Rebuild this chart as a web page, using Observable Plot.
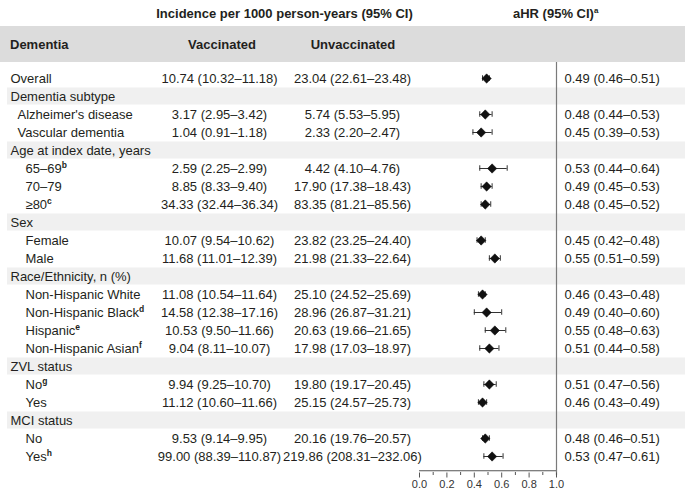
<!DOCTYPE html>
<html><head><meta charset="utf-8">
<script src="https://cdn.jsdelivr.net/npm/d3@7"></script>
<script src="https://cdn.jsdelivr.net/npm/@observablehq/plot@0.6"></script>
<style>
html,body{margin:0;padding:0;background:#fff;overflow:hidden;width:685px;height:491px;}
body{position:relative;font-family:"Liberation Sans",Arial,sans-serif;color:#231f20;}
#head{position:absolute;left:0;top:0;width:685px;height:62px;}
#head span{position:absolute;white-space:nowrap;font-weight:bold;font-size:13px;line-height:15px;}
#head .band{position:absolute;left:0;top:26px;width:685px;height:36px;background:#dcdcdc;}
#head sup{font-size:8px;line-height:0;vertical-align:5px;}
#chart{position:absolute;left:0;top:62px;width:685px;height:429px;}
#chart svg{display:block;max-width:none !important;width:685px;height:429px;}
</style></head><body>
<div id="head"></div>
<div id="chart"></div>
<script>
// ---- data ----
const titleIncidence = "Incidence per 1000 person-years (95% CI)";
const titleHR = "aHR (95% CI)^a";
const columnHeads = ["Dementia", "Vaccinated", "Unvaccinated"];

const labels = ["Overall","Dementia subtype","Alzheimer's disease","Vascular dementia","Age at index date, years","65–69^b","70–79","≥80^c","Sex","Female","Male","Race/Ethnicity, n (%)","Non-Hispanic White","Non-Hispanic Black^d","Hispanic^e","Non-Hispanic Asian^f","ZVL status","No^g","Yes","MCI status","No","Yes^h"];
const indentLevel = [0,0,1,1,0,2,2,2,0,2,2,0,2,2,2,2,0,2,2,0,2,2];
const isGroup = [false,true,false,false,true,false,false,false,true,false,false,true,false,false,false,false,true,false,false,true,false,false];

const vaccRate = [10.74,null,3.17,1.04,null,2.59,8.85,34.33,null,10.07,11.68,null,11.08,14.58,10.53,9.04,null,9.94,11.12,null,9.53,99.00];
const vaccLo   = [10.32,null,2.95,0.91,null,2.25,8.33,32.44,null,9.54,11.01,null,10.54,12.38,9.50,8.11,null,9.25,10.60,null,9.14,88.39];
const vaccHi   = [11.18,null,3.42,1.18,null,2.99,9.40,36.34,null,10.62,12.39,null,11.64,17.16,11.66,10.07,null,10.70,11.66,null,9.95,110.87];

const unvRate = [23.04,null,5.74,2.33,null,4.42,17.90,83.35,null,23.82,21.98,null,25.10,28.96,20.63,17.98,null,19.80,25.15,null,20.16,219.86];
const unvLo   = [22.61,null,5.53,2.20,null,4.10,17.38,81.21,null,23.25,21.33,null,24.52,26.87,19.66,17.03,null,19.17,24.57,null,19.76,208.31];
const unvHi   = [23.48,null,5.95,2.47,null,4.76,18.43,85.56,null,24.40,22.64,null,25.69,31.21,21.65,18.97,null,20.45,25.73,null,20.57,232.06];

const hr   = [0.49,null,0.48,0.45,null,0.53,0.49,0.48,null,0.45,0.55,null,0.46,0.49,0.55,0.51,null,0.51,0.46,null,0.48,0.53];
const hrLo = [0.46,null,0.44,0.39,null,0.44,0.45,0.45,null,0.42,0.51,null,0.43,0.40,0.48,0.44,null,0.47,0.43,null,0.46,0.47];
const hrHi = [0.51,null,0.53,0.53,null,0.64,0.53,0.52,null,0.48,0.59,null,0.48,0.60,0.63,0.58,null,0.56,0.49,null,0.51,0.61];

const majorTicks = [0, 0.2, 0.4, 0.6, 0.8, 1.0];
const minorTicks = [0.1, 0.3, 0.5, 0.7, 0.9];

// ---- header (html) ----
const supHtml = s => s.replace(/\^(\w+)$/, "<sup>$1</sup>");
document.getElementById("head").innerHTML = `
 <span style="left:284.5px;top:6px;transform:translateX(-50%)">${titleIncidence}</span>
 <span style="left:513px;top:6px">${supHtml(titleHR)}</span>
 <div class="band"></div>
 <span style="left:10px;top:37px">${columnHeads[0]}</span>
 <span style="left:222px;top:37px;transform:translateX(-50%)">${columnHeads[1]}</span>
 <span style="left:353px;top:37px;transform:translateX(-50%)">${columnHeads[2]}</span>`;

// ---- table rows ----
const f2 = d3.format(".2f");
const ci = (v, lo, hi) => v == null ? null : `${f2(v)} (${f2(lo)}–${f2(hi)})`;
const rows = labels.map((label, i) => ({
  i, label, level: indentLevel[i], group: isGroup[i],
  vacc: ci(vaccRate[i], vaccLo[i], vaccHi[i]),
  unv: ci(unvRate[i], unvLo[i], unvHi[i]),
  hrText: ci(hr[i], hrLo[i], hrHi[i]),
  hr: hr[i], lo: hrLo[i], hi: hrHi[i]
}));
const forest = rows.filter(d => d.hr != null);

const INK = "#231f20";
const step = 18.5;
const n = labels.length;
const txt = {y: "i", frameAnchor: "left", fontSize: 13, fill: INK};

const chart = Plot.plot({
  width: 685, height: 429,
  marginTop: 0, marginLeft: 0, marginRight: 0, marginBottom: 16,
  x: {domain: [0, 1], range: [419, 556]},
  y: {type: "band", domain: d3.range(n), range: [1, 1 + step * n], padding: 0, axis: null},
  style: "font-family:'Liberation Sans',Arial,sans-serif;font-size:13px;color:#231f20;background:white;overflow:visible;",
  marks: [
    Plot.cell(rows.filter(d => d.group), {y: "i", fill: "#f0f0f0", insetLeft: 7, insetTop: 0.5, insetBottom: 0.5}),
    Plot.text(rows.filter(d => d.level === 0), {...txt, text: "label", textAnchor: "start", dx: 10}),
    Plot.text(rows.filter(d => d.level === 1), {...txt, text: "label", textAnchor: "start", dx: 17}),
    Plot.text(rows.filter(d => d.level === 2), {...txt, text: "label", textAnchor: "start", dx: 25}),
    Plot.text(rows.filter(d => d.vacc), {...txt, text: "vacc", textAnchor: "middle", dx: 219}),
    Plot.text(rows.filter(d => d.unv), {...txt, text: "unv", textAnchor: "middle", dx: 352}),
    Plot.text(rows.filter(d => d.hrText), {...txt, text: "hrText", textAnchor: "start", dx: 564}),
    Plot.ruleX([1], {stroke: "#7a7a7a", strokeWidth: 1.2}),
    Plot.ruleY(forest, {y: "i", x1: "lo", x2: "hi", stroke: "#333", strokeWidth: 1}),
    Plot.tickX(forest, {x: "lo", y: "i", stroke: "#333", insetTop: 6.25, insetBottom: 6.25}),
    Plot.tickX(forest, {x: "hi", y: "i", stroke: "#333", insetTop: 6.25, insetBottom: 6.25}),
    Plot.dot(forest, {x: "hr", y: "i", symbol: "diamond2", r: 4.2, fill: "#111", stroke: "#111", strokeWidth: 0.5}),
    Plot.ruleY([n - 1], {x1: 0, x2: 1, dy: step / 2 + 5, stroke: "#555"}),
    Plot.axisX({ticks: majorTicks, tickSize: 5, dy: -2.5, tickFormat: () => "", stroke: "#555"}),
    Plot.axisX({ticks: minorTicks, tickSize: 3, dy: -3, tickFormat: () => "", stroke: "#555"}),
    Plot.axisX({ticks: majorTicks, tickSize: 0, tickPadding: 5, tickFormat: d3.format(".1f"), fontSize: 11, fill: "#333"})
  ]
});

// superscripts for footnote markers
chart.querySelectorAll("text").forEach(t => {
  const s = t.textContent, k = s.indexOf("^");
  if (k < 0) return;
  t.textContent = s.slice(0, k);
  const sup = document.createElementNS("http://www.w3.org/2000/svg", "tspan");
  sup.setAttribute("dy", "-5");
  sup.setAttribute("font-size", "8.5");
  sup.setAttribute("font-weight", "bold");
  sup.textContent = s.slice(k + 1);
  t.appendChild(sup);
});
document.getElementById("chart").appendChild(chart);
</script>
</body></html>
